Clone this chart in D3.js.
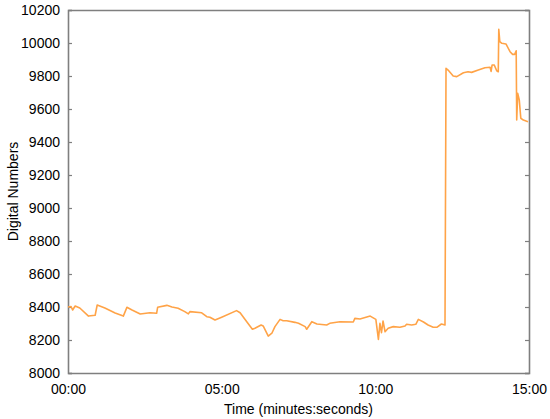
<!DOCTYPE html>
<html>
<head>
<meta charset="utf-8">
<script src="https://cdn.jsdelivr.net/npm/d3@7"></script>
<style>
  body { margin: 0; background: #fff; }
  svg { display: block; font-family: "Liberation Sans", Arial, sans-serif; }
</style>
</head>
<body>
<div class="chart"></div>
<script>
// time in seconds since start
const seconds = [0, 6, 9, 14, 23, 40, 53, 57, 72, 92, 108, 115, 125, 141, 160, 173, 175, 193, 203, 215,
  228, 235, 238, 261, 271, 277, 287, 300, 329, 336, 349, 360, 365, 377, 381, 391, 398, 404, 414, 420,
  427, 443, 450, 463, 466, 476, 486, 505, 511, 531, 557, 560, 570, 590, 601, 606, 609, 612, 615, 619,
  625, 635, 648, 658, 661, 671, 679, 684, 694, 703, 713, 720, 729, 736, 738, 742, 752, 759, 772, 781,
  788, 801, 814, 824, 826, 828, 832, 837, 840, 841, 843, 847, 855, 863, 868, 872, 875, 876, 878, 881,
  884, 889, 898];
const digitalNumbers = [8400, 8403, 8382, 8406, 8394, 8345, 8350, 8412, 8394, 8364, 8345, 8398, 8382, 8358, 8365, 8362, 8398, 8410, 8400, 8392,
  8372, 8358, 8372, 8365, 8341, 8338, 8321, 8338, 8378, 8365, 8311, 8265, 8271, 8291, 8285, 8224, 8241, 8281, 8325, 8317,
  8317, 8307, 8301, 8281, 8265, 8311, 8297, 8291, 8301, 8311, 8309, 8331, 8327, 8345, 8325, 8204, 8301, 8244, 8315, 8250,
  8271, 8281, 8277, 8285, 8295, 8291, 8295, 8325, 8309, 8291, 8277, 8277, 8297, 8291, 9847, 9836, 9800, 9796, 9820, 9826,
  9822, 9836, 9850, 9853, 9828, 9867, 9867, 9832, 9826, 10083, 10008, 9998, 9994, 9947, 9931, 9931, 9953, 9533, 9695, 9655,
  9544, 9533, 9523];

const yTicks = [8000, 8200, 8400, 8600, 8800, 9000, 9200, 9400, 9600, 9800, 10000, 10200];
const xTicks = [0, 300, 600, 900];

const totalW = 550, totalH = 419;
const margin = { top: 10, right: 21, bottom: 46, left: 68 };
const width = totalW - margin.left - margin.right;
const height = totalH - margin.top - margin.bottom;

const fmtTime = s => d3.format("02d")(Math.floor(s / 60)) + ":" + d3.format("02d")(s % 60);

const svg = d3.select(".chart").append("svg")
    .attr("width", totalW)
    .attr("height", totalH);

const g = svg.append("g")
    .attr("transform", "translate(" + margin.left + "," + margin.top + ")");

const x = d3.scaleLinear().domain([0, 900]).range([0, width]);
const y = d3.scaleLinear().domain([8000, 10200]).range([height, 0]);

const axisColor = "#7f7f7f";

// left axis, ticks pointing inward
const yAxis = g.append("g")
    .call(d3.axisLeft(y).tickValues(yTicks).tickSize(-4).tickPadding(8).tickFormat(d3.format("d")));
yAxis.selectAll("text").style("font-size", "14px").attr("fill", "#000");

// right axis, inward ticks, no labels
const yAxisR = g.append("g")
    .attr("transform", "translate(" + width + ",0)")
    .call(d3.axisRight(y).tickValues(yTicks).tickSize(-4).tickFormat(""));

// bottom axis, labels only
const xAxis = g.append("g")
    .attr("transform", "translate(0," + height + ")")
    .call(d3.axisBottom(x).tickValues(xTicks).tickSize(0).tickPadding(11).tickFormat(fmtTime));
xAxis.selectAll("text").style("font-size", "14px").attr("fill", "#000");

// top border
const xAxisT = g.append("g")
    .call(d3.axisTop(x).tickValues([]).tickSizeOuter(0));

[yAxis, yAxisR, xAxis, xAxisT].forEach(a => {
    a.select(".domain").attr("stroke", axisColor).attr("stroke-width", 1.6);
    a.selectAll(".tick line").attr("stroke", axisColor).attr("stroke-width", 1.2);
});

// the data line
const pts = seconds.map((s, i) => [s, digitalNumbers[i]]);
g.append("path")
    .datum(pts)
    .attr("fill", "none")
    .attr("stroke", "#ffa347")
    .attr("stroke-width", 1.6)
    .attr("stroke-linejoin", "round")
    .attr("d", d3.line().x(d => x(d[0])).y(d => y(d[1])));

// axis titles
svg.append("text")
    .attr("x", margin.left + width / 2)
    .attr("y", 414)
    .attr("text-anchor", "middle")
    .style("font-size", "14px")
    .text("Time (minutes:seconds)");

svg.append("text")
    .attr("transform", "translate(18," + (margin.top + height / 2) + ") rotate(-90)")
    .attr("text-anchor", "middle")
    .style("font-size", "14px")
    .text("Digital Numbers");
</script>
</body>
</html>
